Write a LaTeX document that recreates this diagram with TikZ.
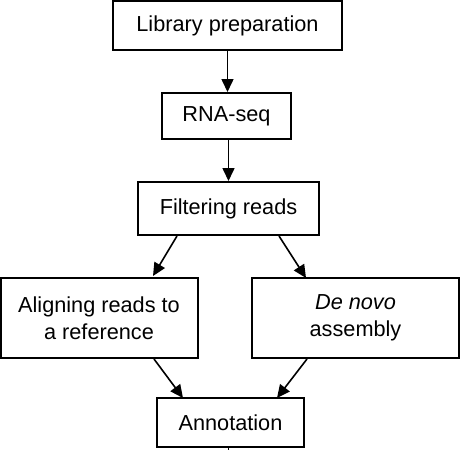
\documentclass[tikz,border=0pt]{standalone}
\usepackage{fontspec}
\setmainfont{Liberation Sans}
\usetikzlibrary{arrows.meta}
\begin{document}
\begin{tikzpicture}[x=1pt,y=-1pt,
  box/.style={draw=black,line width=2pt,fill=white,inner sep=0pt,align=center,font=\fontsize{21.7pt}{27pt}\selectfont},
  conn/.style={line width=1.6pt,-{Triangle[length=13pt,width=12pt]}}]
\useasboundingbox (0,0) rectangle (472,450);
\node[box,minimum width=229pt,minimum height=49pt] (lib) at (227.5,25.5) {Library preparation};
\node[box,minimum width=129pt,minimum height=46pt] (rna) at (226.5,116) {RNA-seq};
\node[box,minimum width=181pt,minimum height=53pt] (filt) at (228.5,208.5) {Filtering reads};
\node[box,minimum width=197pt,minimum height=80pt] (align) at (99,318) {Aligning reads to\\a reference};
\node[box,minimum width=207pt,minimum height=80pt] (denovo) at (355.5,318) {\textit{De novo}\\assembly};
\node[box,minimum width=147pt,minimum height=49pt] (ann) at (230.5,422.5) {Annotation};
\coordinate (out) at (228.5,452);
\draw[conn] (lib.south -| 227.5,0) -- (rna.north -| 227.5,0);
\draw[conn] (rna.south -| 228.5,0) -- (filt.north -| 228.5,0);
\draw[conn] (filt.south -| 177,0) -- (153,276);
\draw[conn] (filt.south -| 279,0) -- (306,278);
\draw[conn] (align.south -| 154,0) -- (183,398);
\draw[conn] (denovo.south -| 307,0) -- (277,398);
\draw[line width=1.6pt] (ann.south -| 228.5,0) -- (out);
\end{tikzpicture}
\end{document}
